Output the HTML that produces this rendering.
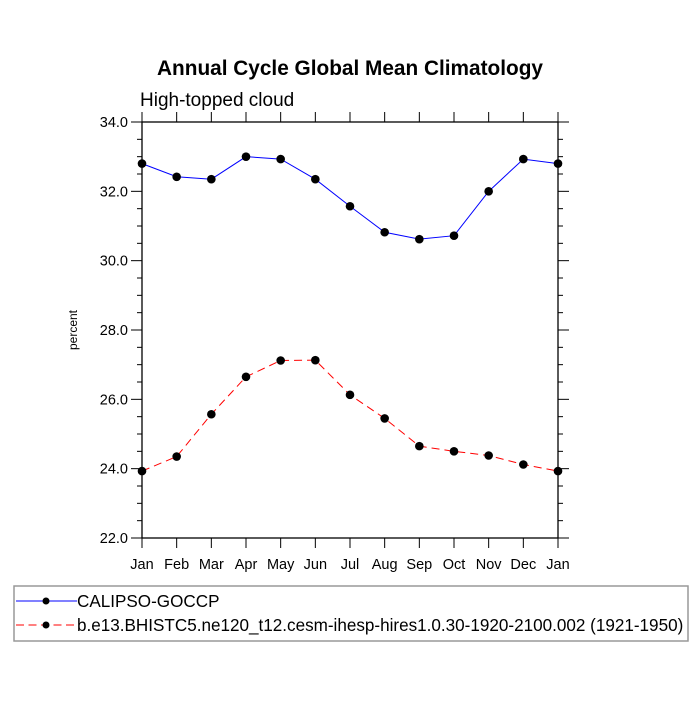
<!DOCTYPE html>
<html><head><meta charset="utf-8"><style>
body{margin:0;background:#fff}
svg text{font-family:"Liberation Sans",sans-serif}
</style></head><body>
<svg id="chart" width="700" height="700" xmlns="http://www.w3.org/2000/svg">
<rect width="700" height="700" fill="#fff"/>
<text x="350" y="75" text-anchor="middle" font-size="20.8" font-weight="bold">Annual Cycle Global Mean Climatology</text>
<text x="140" y="106" font-size="19">High-topped cloud</text>
<text transform="translate(77,330) rotate(-90)" text-anchor="middle" font-size="12">percent</text>
<g id="axes"></g>
<g id="series"></g>
<g>
<rect x="14" y="586" width="674" height="55" fill="none" stroke="#999" stroke-width="1.5"/>
<g>
<line x1="16" y1="601" x2="77" y2="601" stroke="#00f" stroke-width="1"/>
<circle cx="46" cy="601" r="3.5" fill="#000"/>
<text x="77" y="607" font-size="17.1">CALIPSO-GOCCP</text></g>
<g>
<line x1="16" y1="625" x2="77" y2="625" stroke="#f00" stroke-width="1" stroke-dasharray="8,4.5"/>
<circle cx="46" cy="625" r="3.5" fill="#000"/>
<text x="77" y="631" font-size="17.1">b.e13.BHISTC5.ne120_t12.cesm-ihesp-hires1.0.30-1920-2100.002 (1921-1950)</text></g>
</g>
</svg>
<script>
const months=["Jan","Feb","Mar","Apr","May","Jun","Jul","Aug","Sep","Oct","Nov","Dec","Jan"];
const obsValues=[32.8,32.42,32.35,33.0,32.93,32.35,31.57,30.82,30.62,30.72,32.0,32.93,32.8];
const modelValues=[23.93,24.35,25.57,26.65,27.12,27.13,26.13,25.45,24.65,24.5,24.38,24.12,23.93];
const yTicks=[22,24,26,28,30,32,34];
const L=142,R=558,T=122,B=538,ymin=22,ymax=34;
const NS="http://www.w3.org/2000/svg";
const xs=i=>L+(R-L)*i/(months.length-1);
const ys=v=>B-(v-ymin)/(ymax-ymin)*(B-T);
function mk(tag,at,parent){const e=document.createElementNS(NS,tag);for(const k in at)e.setAttribute(k,at[k]);parent.appendChild(e);return e;}
const ax=document.getElementById('axes');
const frame=mk('rect',{x:L,y:T,width:R-L,height:B-T,fill:'none',stroke:'#000','stroke-width':1.3},ax);


months.forEach((m,i)=>{const x=xs(i);
 mk('line',{x1:x,y1:B,x2:x,y2:B+10,stroke:'#000'},ax);
 mk('line',{x1:x,y1:T,x2:x,y2:T-10,stroke:'#000'},ax);
 const t=mk('text',{x:x,y:B+31,'text-anchor':'middle','font-size':14.5},ax);t.textContent=m;
 
 
});
for(let v=ymin;v<=ymax+1e-9;v+=0.5){const y=ys(v);const major=Math.abs(v%2)<1e-9;const len=major?11:5;
 mk('line',{x1:L-len,y1:y,x2:L,y2:y,stroke:'#000'},ax);
 mk('line',{x1:R,y1:y,x2:R+len,y2:y,stroke:'#000'},ax);}
yTicks.forEach(v=>{const t=mk('text',{x:L-14,y:ys(v)+5,'text-anchor':'end','font-size':14.5},ax);t.textContent=v.toFixed(1);
 
 });
const sg=document.getElementById('series');
function series(vals,color,dash,name){
 const p=mk('polyline',{points:vals.map((v,i)=>xs(i)+','+ys(v)).join(' '),fill:'none',stroke:color,'stroke-width':1,'stroke-dasharray':dash},sg);
 
 
 vals.forEach((v,i)=>{const c=mk('circle',{cx:xs(i),cy:ys(v),r:4.3,fill:'#000'},sg);
  
  });
}
series(obsValues,'#00f','none','calipso');
series(modelValues,'#f00','8,5','model');
</script>
</body></html>
